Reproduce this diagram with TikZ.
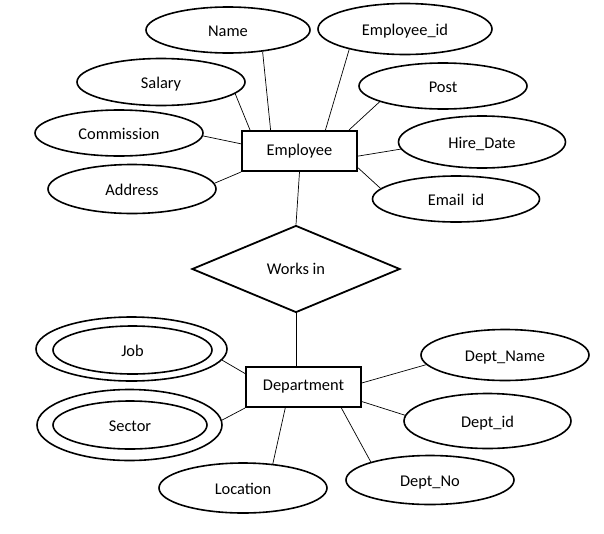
\documentclass[tikz,border=0pt]{standalone}
\usepackage{fontspec}
\setmainfont{Carlito}
\usetikzlibrary{shapes,positioning}

\begin{document}
\begin{tikzpicture}[x=1pt,y=-1pt,font=\fontsize{16.4}{20}\selectfont]
  \tikzstyle{ent} = [draw,rectangle,line width=2pt,minimum width=115pt,minimum height=40pt]
  \tikzstyle{attr} = [draw,ellipse,line width=1.6pt,minimum width=168pt,minimum height=47pt,inner sep=0pt,text height=14pt,text depth=1pt]
  \tikzstyle{rel} = [draw,diamond,line width=1.8pt,minimum width=208pt,minimum height=87pt,inner sep=0pt]
  \tikzstyle{link} = [line width=0.7pt]
  \useasboundingbox (0,0) rectangle (604,533);
  \node (emp) [ent] at (299.5,151) {Employee};
  \node (name) [attr, minimum width=164pt, minimum height=46pt] at (228,30) {Name};
  \node (empid) [attr, minimum width=174pt, minimum height=51pt] at (405,29) {Employee\_id};
  \node (salary) [attr] at (161,82) {Salary};
  \node (post) [attr, minimum height=46pt] at (443,86) {Post};
  \node (comm) [attr, minimum height=46pt] at (119,133) {Commission};
  \node (hire) [attr, minimum width=167pt, minimum height=52pt] at (482,142) {Hire\_Date};
  \node (addr) [attr, minimum height=49pt] at (132,189) {Address};
  \node (email) [attr, minimum width=167pt, minimum height=46pt] at (456,199) {Email\ \ id};
  \node (works) [rel] at (296,269) {Works in};
  \node (dept) [ent] at (303.5,387) {Department};
  \node (job) [attr, minimum width=191pt, minimum height=64pt] at (131.5,349) {};
  \node (jobin) [attr, minimum width=159pt, minimum height=48pt] at (132.5,350) {Job};
  \node (sector) [attr, minimum width=185pt, minimum height=71pt] at (129.5,425) {};
  \node (sectin) [attr, minimum width=154pt, minimum height=48pt] at (130,425) {Sector};
  \node (loc) [attr, minimum height=50pt] at (243,488) {Location};
  \node (dname) [attr, minimum height=51pt] at (505,355) {Dept\_Name};
  \node (did) [attr, minimum width=167pt, minimum height=55pt] at (487.5,421) {Dept\_id};
  \node (dno) [attr, minimum height=49pt] at (430,480) {Dept\_No};
  \draw [link] (name.-32) -- (emp.144);
  \draw [link] (salary.-9) -- (emp.157);
  \draw [link] (comm.-2) -- (emp.173);
  \draw [link] (addr.4) -- (emp.south west);
  \draw [link] (empid.200) -- (emp.39);
  \draw [link] (post.194) -- (emp.23);
  \draw [link] (hire.185) -- (emp.-5);
  \draw [link] (email.172) -- (emp.-16);
  \draw [link] (emp.south) -- (works.north);
  \draw [link] (works.south) -- (works.south |- dept.north);
  \draw [link] (job.-7) -- (dept.167);
  \draw [link] (sector.3) -- (dept.south west);
  \draw [link] (loc.39) -- (dept.229);
  \draw [link] (dname.187) -- (dept.4);
  \draw [link] (did.176) -- (dept.-14);
  \draw [link] (dno.163) -- (dept.-29);
\end{tikzpicture}
\end{document}
